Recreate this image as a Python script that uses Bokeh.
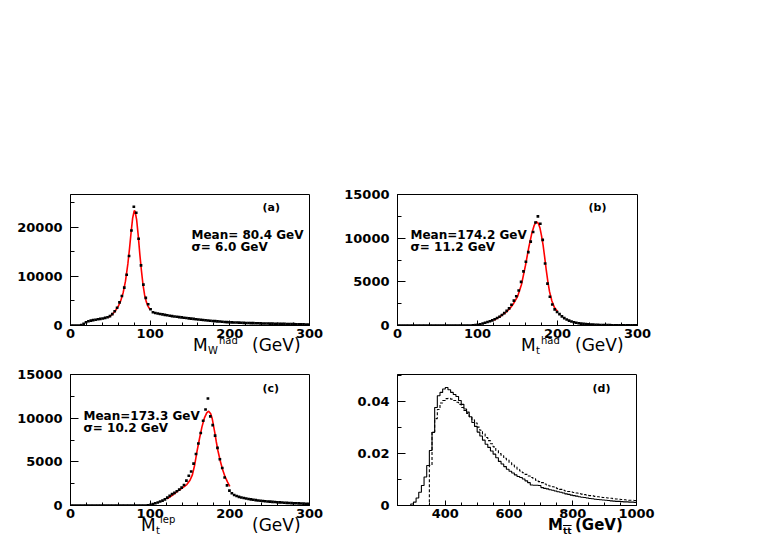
import numpy as np
from bokeh.plotting import figure
from bokeh.models import Range1d, FixedTicker, Label, Spacer, Div
from bokeh.layouts import column, row
from bokeh.embed import file_html
from bokeh.resources import INLINE

# ---------------- data ----------------
# panels (a)-(c): 100 bins of 3 GeV between 0 and 300 GeV
mass_bin_edges = [3.0 * i for i in range(101)]

mw_had_counts = [
    0, 0, 0, 0, 80, 350, 650, 850, 1000, 1100,
    1180, 1260, 1340, 1430, 1540, 1680, 1900, 2300, 2900, 3600,
    4700, 6000, 7700, 10300, 14100, 19300, 24100, 22900, 17600, 12200,
    8300, 5600, 4300, 3300, 2700, 2550, 2450, 2350, 2250, 2150,
    2070, 1990, 1910, 1840, 1770, 1700, 1640, 1570, 1510, 1450,
    1400, 1340, 1280, 1220, 1160, 1110, 1060, 1010, 960, 920,
    880, 840, 800, 760, 720, 690, 660, 640, 620, 600,
    580, 560, 540, 520, 505, 490, 475, 460, 445, 430,
    420, 410, 400, 390, 380, 370, 360, 350, 340, 330,
    315, 300, 290, 275, 260, 250, 240, 225, 215, 200]

mt_had_counts = [
    0, 0, 0, 0, 0, 0, 0, 0, 0, 0,
    0, 0, 0, 0, 0, 0, 0, 0, 0, 0,
    0, 0, 0, 0, 0, 0, 0, 0, 0, 0,
    0, 20, 40, 80, 150, 230, 310, 400, 490, 590,
    720, 860, 1010, 1200, 1420, 1680, 1960, 2380, 2850, 3350,
    4000, 5000, 6200, 7300, 8400, 9600, 10700, 11800, 12500, 11650,
    9800, 7100, 4800, 3300, 2400, 1850, 1550, 1300, 1050, 850,
    690, 560, 460, 380, 310, 260, 220, 185, 155, 130,
    110, 95, 80, 70, 62, 55, 50, 45, 40, 36,
    33, 30, 28, 26, 24, 22, 20, 18, 16, 15]

mt_lep_counts = [
    0, 0, 0, 0, 0, 0, 0, 0, 0, 0,
    0, 0, 0, 0, 0, 0, 0, 0, 0, 0,
    0, 0, 0, 0, 0, 0, 0, 0, 0, 0,
    0, 0, 30, 90, 170, 260, 350, 450, 560, 700,
    900, 1100, 1300, 1450, 1640, 1820, 2050, 2350, 2850, 3400,
    3900, 4800, 5900, 7100, 8300, 9700, 11000, 12250, 10200, 9200,
    8000, 6600, 5300, 4300, 3200, 2300, 1700, 1400, 1200, 1080,
    990, 920, 860, 800, 750, 700, 660, 620, 580, 550,
    520, 490, 465, 440, 415, 395, 375, 355, 335, 320,
    305, 290, 275, 260, 250, 240, 225, 215, 200, 190]

# fitted curves (red)
fit_a_x = [48, 52, 56, 60, 63, 66, 69, 72, 74, 76, 78, 80, 81, 83, 85, 87, 89, 91, 93, 95, 97, 100]
fit_a_y = [1700, 2200, 2900, 3900, 5000, 6600, 9000, 12500, 15500, 18800, 21800, 23300, 23200,
           21500, 18300, 14500, 11200, 8300, 6200, 4900, 4000, 3200]

fit_b_x = [120, 125, 130, 135, 140, 145, 150, 155, 160, 164, 168, 171, 173.5, 176, 178, 180,
           182, 184, 186, 188, 190, 193, 196, 200]
fit_b_y = [600, 850, 1150, 1480, 1900, 2500, 3300, 4700, 6900, 8900, 10600, 11500, 11900, 11700,
           11200, 10300, 9200, 7800, 6300, 5000, 3900, 2800, 2100, 1600]

fit_c_x = [121, 126, 131, 136, 141, 146, 150, 153, 156, 159, 162, 165, 168, 171, 173.4, 176,
           178, 181, 183, 185, 188, 191, 194, 197, 200]
fit_c_y = [760, 1050, 1400, 1750, 2050, 2400, 2900, 3500, 4700, 6300, 7700, 9000, 10000, 10600,
           10800, 10500, 9900, 8400, 7300, 6300, 5100, 4100, 3300, 2700, 2200]

# panel (d): 90 bins between 250 and 1000 GeV
mtt_bin_edges = list(np.linspace(250, 1000, 91))
mtt_solid = [
    0, 0, 0, 0, 0, 0.0006, 0.0013, 0.0029, 0.0051, 0.0077,
    0.0110, 0.0154, 0.0212, 0.0282, 0.0378, 0.0423, 0.0436, 0.0449, 0.0455, 0.0446,
    0.0436, 0.0428, 0.0420, 0.0405, 0.0390, 0.0372, 0.0360, 0.0342, 0.0320, 0.0305,
    0.0283, 0.0268, 0.0252, 0.0236, 0.0224, 0.0210, 0.0198, 0.0184, 0.0170, 0.0160,
    0.0150, 0.0140, 0.0132, 0.0125, 0.0118, 0.0112, 0.0108, 0.0102, 0.0095, 0.0088,
    0.0079, 0.0078, 0.0078, 0.0077, 0.0069, 0.0066, 0.0064, 0.0061, 0.0059, 0.0056,
    0.0053, 0.0051, 0.0048, 0.0045, 0.0043, 0.0040, 0.0038, 0.0036, 0.0034, 0.0032,
    0.0031, 0.0029, 0.0027, 0.0026, 0.0024, 0.0023, 0.0022, 0.0021, 0.0020, 0.0019,
    0.0018, 0.0017, 0.0016, 0.0016, 0.0015, 0.0014, 0.0014, 0.0013, 0.0013, 0.0012]
mtt_dotted = [
    0, 0, 0, 0, 0, 0, 0, 0, 0, 0,
    0, 0, 0.0155, 0.0284, 0.0335, 0.0370, 0.0395, 0.0405, 0.0412, 0.0413,
    0.0410, 0.0405, 0.0398, 0.0390, 0.0378, 0.0366, 0.0355, 0.0342, 0.0330, 0.0318,
    0.0302, 0.0290, 0.0276, 0.0262, 0.0250, 0.0238, 0.0226, 0.0212, 0.0200, 0.0192,
    0.0182, 0.0175, 0.0165, 0.0156, 0.0148, 0.0140, 0.0133, 0.0126, 0.0120, 0.0114,
    0.0108, 0.0103, 0.0097, 0.0092, 0.0088, 0.0083, 0.0079, 0.0075, 0.0072, 0.0068,
    0.0065, 0.0062, 0.0059, 0.0056, 0.0054, 0.0052, 0.0050, 0.0048, 0.0046, 0.0044,
    0.0042, 0.0040, 0.0038, 0.0037, 0.0035, 0.0034, 0.0033, 0.0031, 0.0030, 0.0029,
    0.0028, 0.0026, 0.0025, 0.0024, 0.0023, 0.0022, 0.0021, 0.0020, 0.0020, 0.0019]

assert len(mw_had_counts) == 100 and len(mt_had_counts) == 100 and len(mt_lep_counts) == 100
assert len(mtt_solid) == 90 and len(mtt_dotted) == 90

mass_ticks = [0, 100, 200, 300]
mtt_ticks = [400, 600, 800, 1000]

# ---------------- helpers ----------------
FONT = "DejaVu Sans"
FIG_H = 167


def make_fig(width, left, right, xr, yr, xt, xminor, yt, yminor):
    p = figure(width=width, height=FIG_H, x_range=Range1d(*xr), y_range=Range1d(*yr),
               output_backend="svg", toolbar_location=None,
               min_border_left=left, min_border_right=right,
               min_border_top=14, min_border_bottom=22)
    p.background_fill_color = "white"
    p.border_fill_color = "white"
    p.outline_line_color = "black"
    p.outline_line_width = 1
    p.xgrid.visible = False
    p.ygrid.visible = False
    p.xaxis.ticker = FixedTicker(ticks=xt, minor_ticks=xminor)
    p.yaxis.ticker = FixedTicker(ticks=yt, minor_ticks=yminor)
    for ax in (p.xaxis[0], p.yaxis[0]):
        ax.axis_line_color = "black"
        ax.major_tick_line_color = "black"
        ax.minor_tick_line_color = "black"
        ax.major_tick_out = 0
        ax.minor_tick_out = 0
        ax.major_label_text_font = FONT
        ax.major_label_text_font_style = "bold"
        ax.major_label_text_font_size = "13px"
        ax.major_label_text_color = "black"
    p.xaxis.major_tick_in = 5
    p.xaxis.minor_tick_in = 3
    p.yaxis.major_tick_in = 8
    p.yaxis.minor_tick_in = 4
    p.xaxis.major_label_standoff = 3
    p.yaxis.major_label_standoff = 8
    return p


def add_text(p, frame, xr, yr, text, px, py, size, style="normal", align="left"):
    # frame = (left, top, width, height) of the plot frame in page pixels
    left, top, w, h = frame
    x = xr[0] + (px - left) / w * (xr[1] - xr[0])
    y = yr[0] + (top + h - py) / h * (yr[1] - yr[0])
    p.add_layout(Label(x=x, y=y, text=text, text_font=FONT, text_font_style=style,
                       text_font_size=f"{size}px", text_align=align,
                       text_baseline="alphabetic", text_color="black"))


def draw_points(p, counts):
    centers = [(a + b) / 2 for a, b in zip(mass_bin_edges[:-1], mass_bin_edges[1:])]
    p.rect(x=centers, y=counts, width=3.4, height=2.6, height_units="screen",
           fill_color="black", line_color=None)


def title_div(width, height, div_top, col_left, pieces):
    # pieces: (html, page_x, baseline_page_y, size, weight, extra_css)
    spans = []
    for html, px, base, size, weight, extra in pieces:
        top = base - 0.846 * size - div_top
        spans.append(
            f'<span style="position:absolute;left:{px - col_left}px;top:{top:.1f}px;'
            f'font-size:{size}px;line-height:1;font-weight:{weight};white-space:nowrap;'
            f'{extra}">{html}</span>')
    inner = (f'<div style="position:relative;width:{width}px;height:{height}px;'
             f"font-family:'DejaVu Sans';color:#000;\">" + "".join(spans) + "</div>")
    return Div(text=inner, width=width, height=height, margin=(0, 0, 0, 0),
               styles={"overflow": "visible"})


mass_minor = list(range(0, 301, 20))
xr_m = (0, 300)
W1, W2 = 329, 328
ROW1_DIV_TOP = 180 + FIG_H
ROW2_DIV_TOP = 180 + FIG_H + 13 + FIG_H

# ---------------- panel (a) ----------------
yr_a = (0, 26600)
fr_a = (70, 194, 239, 131)
pa = make_fig(W1, 70, 20, xr_m, yr_a, mass_ticks, mass_minor,
              [0, 10000, 20000], list(range(0, 26601, 5000)))
pa.line(fit_a_x, fit_a_y, line_color="red", line_width=1.6)
draw_points(pa, mw_had_counts)
add_text(pa, fr_a, xr_m, yr_a, "(a)", 262, 207, 11, "bold")
add_text(pa, fr_a, xr_m, yr_a, "Mean= 80.4 GeV", 191, 234, 12, "bold")
add_text(pa, fr_a, xr_m, yr_a, "σ=  6.0 GeV", 191, 246, 12, "bold")
ta = title_div(W1, 13, ROW1_DIV_TOP, 0, [
    ("M", 193, 351, 17, "normal", ""),
    ("W", 208, 354, 10, "normal", ""),
    ("had", 219, 344, 10, "normal", ""),
    ("(GeV)", 252, 351, 17, "normal", ""),
])

# ---------------- panel (b) ----------------
yr_b = (0, 15000)
fr_b = (397, 194, 240, 131)
pb = make_fig(W2, 68, 20, xr_m, yr_b, mass_ticks, mass_minor,
              [0, 5000, 10000, 15000], list(range(0, 15001, 2500)))
pb.line(fit_b_x, fit_b_y, line_color="red", line_width=1.6)
draw_points(pb, mt_had_counts)
add_text(pb, fr_b, xr_m, yr_b, "(b)", 588, 207, 11, "bold")
add_text(pb, fr_b, xr_m, yr_b, "Mean=174.2 GeV", 410, 234, 12, "bold")
add_text(pb, fr_b, xr_m, yr_b, "σ= 11.2 GeV", 410, 246, 12, "bold")
tb = title_div(W2, 13, ROW1_DIV_TOP, W1, [
    ("M", 521, 351, 17, "normal", ""),
    ("t", 536, 354, 10, "normal", ""),
    ("had", 541, 344, 10, "normal", ""),
    ("(GeV)", 575, 351, 17, "normal", ""),
])

# ---------------- panel (c) ----------------
yr_c = (0, 15000)
fr_c = (70, 374, 239, 131)
pc = make_fig(W1, 70, 20, xr_m, yr_c, mass_ticks, mass_minor,
              [0, 5000, 10000, 15000], list(range(0, 15001, 2500)))
pc.line(fit_c_x, fit_c_y, line_color="red", line_width=1.6)
draw_points(pc, mt_lep_counts)
add_text(pc, fr_c, xr_m, yr_c, "(c)", 262, 388, 11, "bold")
add_text(pc, fr_c, xr_m, yr_c, "Mean=173.3 GeV", 83, 415, 12, "bold")
add_text(pc, fr_c, xr_m, yr_c, "σ= 10.2 GeV", 83, 427, 12, "bold")
tc = title_div(W1, 12, ROW2_DIV_TOP, 0, [
    ("M", 141, 531, 17, "normal", ""),
    ("t", 156, 534, 10, "normal", ""),
    ("lep", 160, 523, 10, "normal", ""),
    ("(GeV)", 252, 531, 17, "normal", ""),
])

# ---------------- panel (d) ----------------
xr_d = (250, 1000)
yr_d = (0, 0.0505)
fr_d = (397, 374, 239, 131)
pd_ = make_fig(W2, 68, 21, xr_d, yr_d, mtt_ticks, list(range(250, 1001, 50)),
               [0, 0.02, 0.04], [0.01, 0.03, 0.05])
pd_.yaxis.major_label_overrides = {0: "0", 0.02: "0.02", 0.04: "0.04"}
pd_.step(mtt_bin_edges, mtt_solid + [mtt_solid[-1]], mode="after",
         line_color="black", line_width=1.1)
pd_.step(mtt_bin_edges, mtt_dotted + [mtt_dotted[-1]], mode="after",
         line_color="black", line_width=1.1, line_dash="3 2")
add_text(pd_, fr_d, xr_d, yr_d, "(d)", 592, 388, 11, "bold")
td = title_div(W2, 12, ROW2_DIV_TOP, W1, [
    ("M", 548, 531, 15, "bold", ""),
    ("tt", 563, 535, 9, "bold", "text-decoration:overline;"),
    ("(GeV)", 575, 531, 15, "bold", ""),
])

layout = column(Spacer(width=10, height=180),
                row(pa, pb), row(ta, tb),
                row(pc, pd_), row(tc, td))

open("out.html", "w").write(file_html(layout, INLINE))
